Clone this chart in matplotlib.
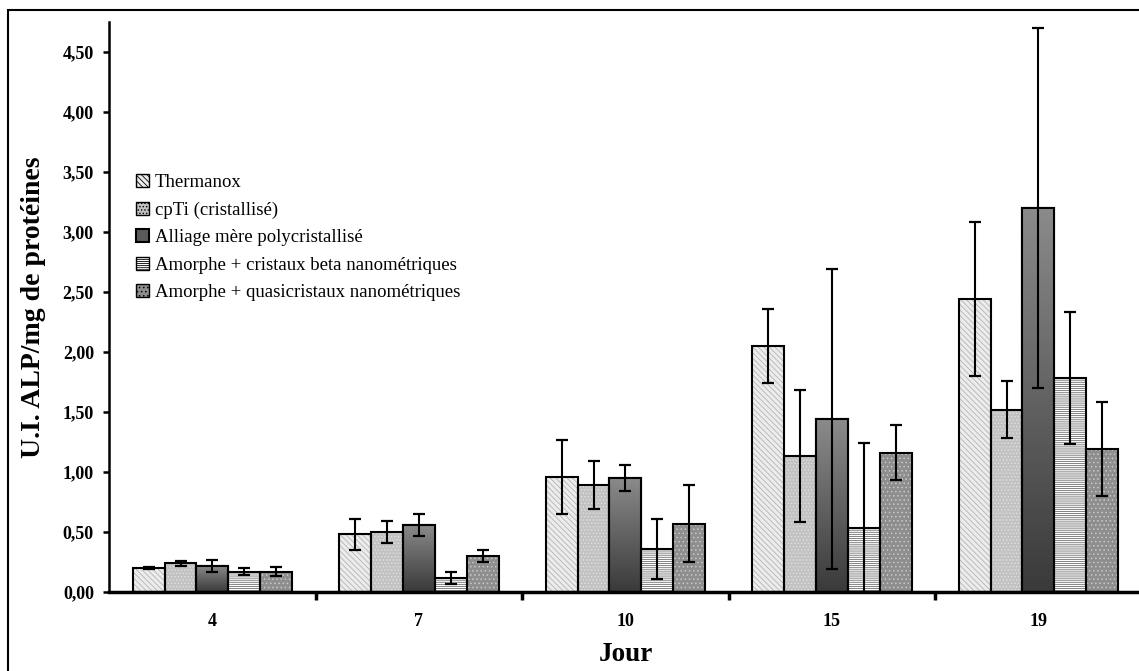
import numpy as np
import matplotlib
matplotlib.use('Agg')
import matplotlib.pyplot as plt
from matplotlib.patches import Rectangle
from matplotlib.colors import LinearSegmentedColormap

days = ['4', '7', '10', '15', '19']
series = ['Thermanox', 'cpTi (cristallisé)', 'Alliage mère polycristallisé',
          'Amorphe + cristaux beta nanométriques', 'Amorphe + quasicristaux nanométriques']

thermanox = [0.20, 0.48, 0.96, 2.05, 2.44]
thermanox_err = [0.01, 0.13, 0.31, 0.31, 0.64]
cpti = [0.24, 0.50, 0.89, 1.13, 1.52]
cpti_err = [0.02, 0.09, 0.20, 0.55, 0.24]
alliage = [0.22, 0.56, 0.95, 1.44, 3.20]
alliage_err = [0.05, 0.09, 0.11, 1.25, 1.50]
beta = [0.17, 0.12, 0.36, 0.53, 1.78]
beta_err = [0.03, 0.05, 0.25, 0.71, 0.55]
quasi = [0.17, 0.30, 0.57, 1.16, 1.19]
quasi_err = [0.04, 0.05, 0.32, 0.23, 0.39]

values = [thermanox, cpti, alliage, beta, quasi]
errors = [thermanox_err, cpti_err, alliage_err, beta_err, quasi_err]

# fill, hatch, hatch colour
styles = [
    ('#ececec', '\\\\\\\\\\\\', '#b4b4b4'),
    ('#c2c2c2', '.....', '#e0e0e0'),
    ('#5a5a5a', None, None),
    ('#ffffff', '--------', '#6e6e6e'),
    ('#8e8e8e', '....', '#c8c8c8'),
]

serif = ['Liberation Serif', 'DejaVu Serif']
plt.rcParams['font.family'] = serif
plt.rcParams['hatch.linewidth'] = 0.6


def main():
    fig = plt.figure(figsize=(11.39, 6.71), dpi=100)
    ax = fig.add_axes([109.2 / 1139, 1 - 592 / 671, (1141.7 - 109.2) / 1139, (592 - 22) / 671])

    x = np.arange(len(days))
    width = 0.1546
    grad = LinearSegmentedColormap.from_list('g', ['#3a3a3a', '#8a8a8a'])

    for i, (vals, errs) in enumerate(zip(values, errors)):
        fill, hatch, hcol = styles[i]
        pos = x + (i - 2) * width
        if hatch is None:
            bars = ax.bar(pos, vals, width, color=fill, edgecolor='black', linewidth=1.5,
                          label=series[i], zorder=2)
            for b in bars:
                x0, w, h = b.get_x(), b.get_width(), b.get_height()
                img = ax.imshow(np.linspace(0, 1, 100).reshape(-1, 1), cmap=grad,
                                extent=[x0, x0 + w, 0, h], origin='lower',
                                aspect='auto', zorder=2.1)
                img.set_clip_path(b)
            ax.bar(pos, vals, width, color='none', edgecolor='black', linewidth=1.5,
                   zorder=2.2)
        else:
            ax.bar(pos, vals, width, color=fill, edgecolor='none', linewidth=0, zorder=2)
            ax.bar(pos, vals, width, color='none', edgecolor=hcol, hatch=hatch,
                   linewidth=0, zorder=2.1)
            ax.bar(pos, vals, width, color='none', edgecolor='black', linewidth=1.5,
                   zorder=2.2)
            # legend proxy
            ax.bar([np.nan], [np.nan], width, color=fill, edgecolor='black', hatch=hatch,
                   linewidth=1, label=series[i])
        ax.errorbar(pos, vals, yerr=errs, fmt='none', ecolor='black', elinewidth=1.5,
                    capsize=4.5, capthick=1.6, zorder=3)

    handles, labels = ax.get_legend_handles_labels()
    order = [labels.index(s) for s in series]
    ax.legend([handles[k] for k in order], [labels[k] for k in order],
              loc='upper left', bbox_to_anchor=(0.019, 0.746), frameon=False,
              fontsize=13.5, handlelength=0.7, handleheight=0.7, handletextpad=0.3,
              labelspacing=0.55, borderaxespad=0)

    ax.set_ylim(0, 4.75)
    ax.set_xlim(-0.5, 4.5)
    yt = np.arange(0, 4.51, 0.5)
    ax.set_yticks(yt)
    ax.set_yticklabels([f'{v:.2f}'.replace('.', ',') for v in yt],
                       fontweight='bold', fontsize=13)
    ax.set_xticks(np.arange(0.5, 4, 1))
    ax.set_xticklabels([])
    ax.set_xticks(x, minor=True)
    ax.set_xticklabels(days, minor=True, fontweight='bold', fontsize=13)
    ax.tick_params(axis='x', which='major', direction='out', length=6, width=2.5)
    ax.tick_params(axis='x', which='minor', length=0, pad=15)
    ax.tick_params(axis='y', direction='out', length=4.5, width=1.8, pad=6.5)

    ax.spines['top'].set_visible(False)
    ax.spines['right'].set_visible(False)
    ax.spines['bottom'].set_linewidth(2.5)
    ax.spines['left'].set_linewidth(1.8)

    ax.set_xlabel('Jour', fontsize=19.5, fontweight='bold', labelpad=9)
    ax.set_ylabel('U.I. ALP/mg de protéines', fontsize=20, fontweight='bold', labelpad=12)

    # outer frame
    fig.patches.append(Rectangle((8 / 1139, -0.1), 1.2, 1.1 - 10 / 671,
                                 transform=fig.transFigure, fill=False,
                                 edgecolor='black', linewidth=1.5))

    fig.savefig('out.png', dpi=100)


if __name__ == '__main__':
    main()
